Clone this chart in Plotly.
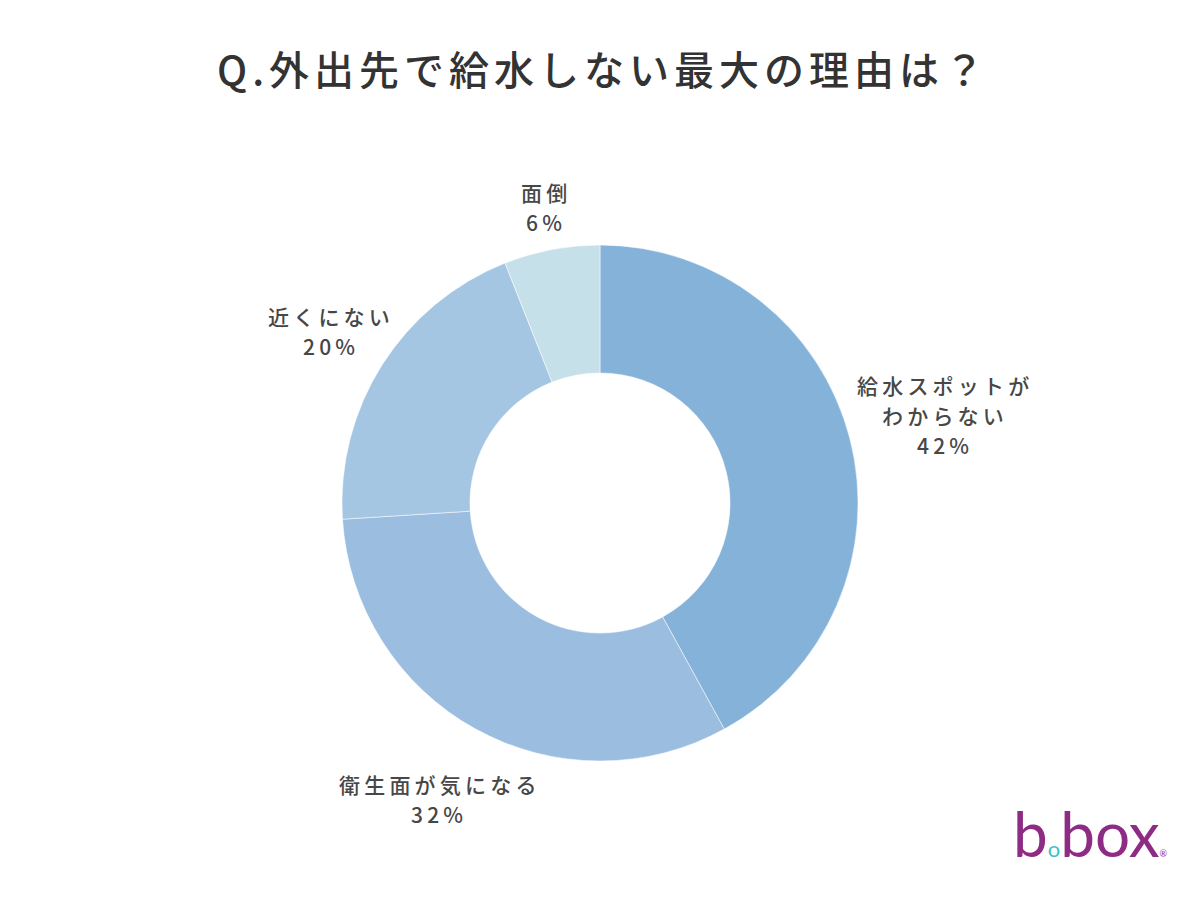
import numpy as np
import plotly.graph_objects as go

labels = ["給水スポットが<br>わからない", "衛生面が気になる", "近くにない", "面倒"]
values = [42, 32, 20, 6]
colors = ["#85b2d9", "#9bbde0", "#a5c6e3", "#c6e0ea"]
title = "Q.外出先で給水しない最大の理由は？"

W, H = 1200, 900
cx, cy = 600, 503
R = 258
label_dist = [354, 338, 321, 301]   # px from centre to label block centre
line_h = 30


def spaced(s, sp):
    return sp.join(list(s))


fig = go.Figure(go.Pie(
    labels=labels, values=values, sort=False, direction="clockwise", rotation=0,
    hole=0.504, textinfo="none", hoverinfo="label+percent",
    marker=dict(colors=colors, line=dict(color="rgba(255,255,255,0.5)", width=1)),
    domain=dict(x=[(cx - R) / W, (cx + R) / W], y=[1 - (cy + R) / H, 1 - (cy - R) / H]),
    showlegend=False,
))

total = sum(values)
cum = np.cumsum([0] + values[:-1])
for lab, v, c0, dist in zip(labels, values, cum, label_dist):
    mid = (c0 + v / 2) / total * 2 * np.pi
    lx = cx + dist * np.sin(mid)
    ly = cy - dist * np.cos(mid)
    lines = lab.split("<br>") + [f"{v}%"]
    n = len(lines)
    for i, ln in enumerate(lines):
        yy = ly + (i - (n - 1) / 2) * line_h
        fig.add_annotation(
            x=lx / W, y=1 - yy / H, xref="paper", yref="paper",
            text=spaced(ln, "\u2009"), showarrow=False, xanchor="center", yanchor="middle",
            font=dict(family="Noto Sans CJK JP", size=21, color="#474747", weight=500),
        )

fig.add_annotation(
    x=0.5, y=1 - 68 / H, xref="paper", yref="paper", showarrow=False,
    text=spaced(title, "\u200a\u200a"), xanchor="center", yanchor="middle",
    font=dict(family="Noto Sans CJK JP", size=40, color="#333333", weight=500),
)

fig.add_annotation(
    x=1090 / W, y=1 - 833 / H, xref="paper", yref="paper", showarrow=False,
    text="b<span style='color:#3bbfcf;font-size:22px'>o</span>box<span style='font-size:9px'>®</span>",
    xanchor="center", yanchor="middle",
    font=dict(family="Lato", size=62, color="#8e2b84"),
)

fig.update_layout(
    width=W, height=H, margin=dict(l=0, r=0, t=0, b=0),
    paper_bgcolor="white", plot_bgcolor="white",
)
fig.write_html("out.html")
